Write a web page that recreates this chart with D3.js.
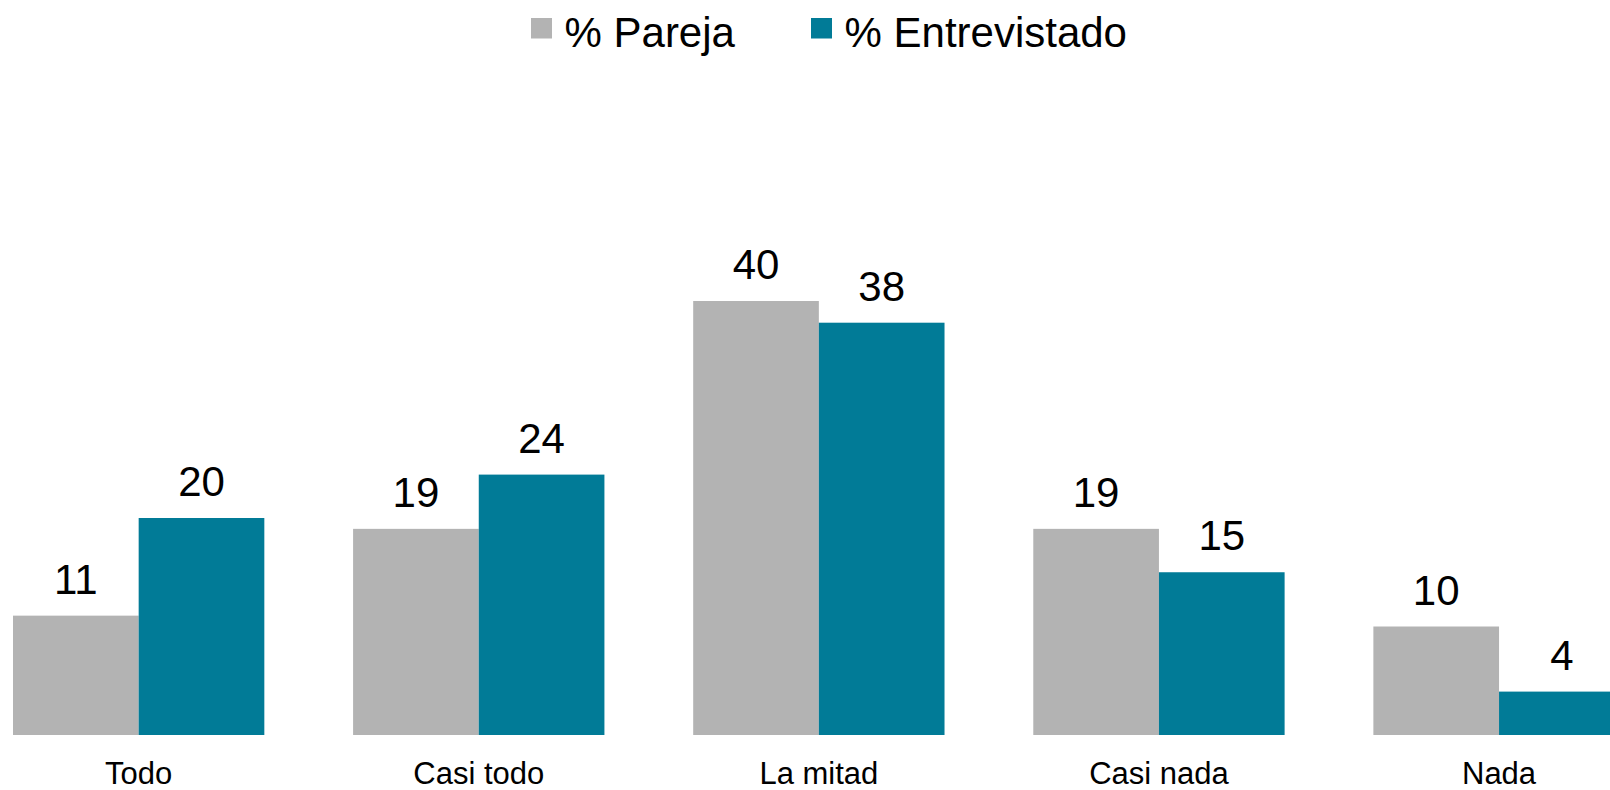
<!DOCTYPE html>
<html>
<head>
<meta charset="utf-8">
<script src="https://cdn.jsdelivr.net/npm/d3@7"></script>
<style>
  body { margin: 0; background: #fff; }
  svg { display: block; font-family: "Liberation Sans", Arial, sans-serif; }
</style>
</head>
<body>
<div id="chart"></div>
<script>
// data
var categories = ["Todo", "Casi todo", "La mitad", "Casi nada", "Nada"];
var seriesNames = ["% Pareja", "% Entrevistado"];
var pareja = [11, 19, 40, 19, 10];
var entrevistado = [20, 24, 38, 15, 4];

var colors = ["#b3b3b3", "#017b97"];

var width = 1610, height = 790;
var svg = d3.select("#chart").append("svg")
  .attr("width", width)
  .attr("height", height);

var data = categories.map(function(c, i) {
  return { cat: c, values: [pareja[i], entrevistado[i]] };
});

// x scale (bars run past the right edge like the original)
var x0 = d3.scaleBand()
  .domain(categories)
  .range([13, 1624.7])
  .paddingInner(0.261)
  .paddingOuter(0);

var x1 = d3.scaleBand()
  .domain(d3.range(seriesNames.length))
  .range([0, x0.bandwidth()])
  .padding(0);

var baseline = 735;
var y = d3.scaleLinear()
  .domain([0, 50])
  .range([baseline, baseline - 50 * 10.85]);

var groups = svg.append("g")
  .selectAll("g")
  .data(data)
  .enter().append("g")
  .attr("transform", function(d) { return "translate(" + x0(d.cat) + ",0)"; });

groups.selectAll("rect")
  .data(function(d) { return d.values; })
  .enter().append("rect")
  .attr("x", function(d, i) { return x1(i); })
  .attr("y", function(d) { return y(d); })
  .attr("width", x1.bandwidth())
  .attr("height", function(d) { return y(0) - y(d); })
  .attr("fill", function(d, i) { return colors[i]; });

groups.selectAll("text.val")
  .data(function(d) { return d.values; })
  .enter().append("text")
  .attr("class", "val")
  .attr("x", function(d, i) { return x1(i) + x1.bandwidth() / 2; })
  .attr("y", function(d) { return y(d) - 22; })
  .attr("text-anchor", "middle")
  .attr("font-size", "42px")
  .attr("fill", "#000")
  .text(function(d) { return d; });

// category labels
var xAxis = d3.axisBottom(x0).tickSize(0).tickPadding(0);
var axisG = svg.append("g")
  .attr("transform", "translate(0," + baseline + ")")
  .call(xAxis);
axisG.select(".domain").remove();
axisG.selectAll("text")
  .attr("font-size", "31px")
  .attr("font-family", "Liberation Sans, Arial, sans-serif")
  .attr("fill", "#000")
  .attr("dy", null)
  .attr("y", 49);

// legend
var legendX = [531, 811];
var legend = svg.append("g")
  .selectAll("g")
  .data(seriesNames)
  .enter().append("g")
  .attr("transform", function(d, i) { return "translate(" + legendX[i] + ",0)"; });

legend.append("rect")
  .attr("x", 0)
  .attr("y", 18)
  .attr("width", 21)
  .attr("height", 20.5)
  .attr("fill", function(d, i) { return colors[i]; });

legend.append("text")
  .attr("x", 33.5)
  .attr("y", 46.7)
  .attr("font-size", "42px")
  .attr("fill", "#000")
  .text(function(d) { return d; });
</script>
</body>
</html>
